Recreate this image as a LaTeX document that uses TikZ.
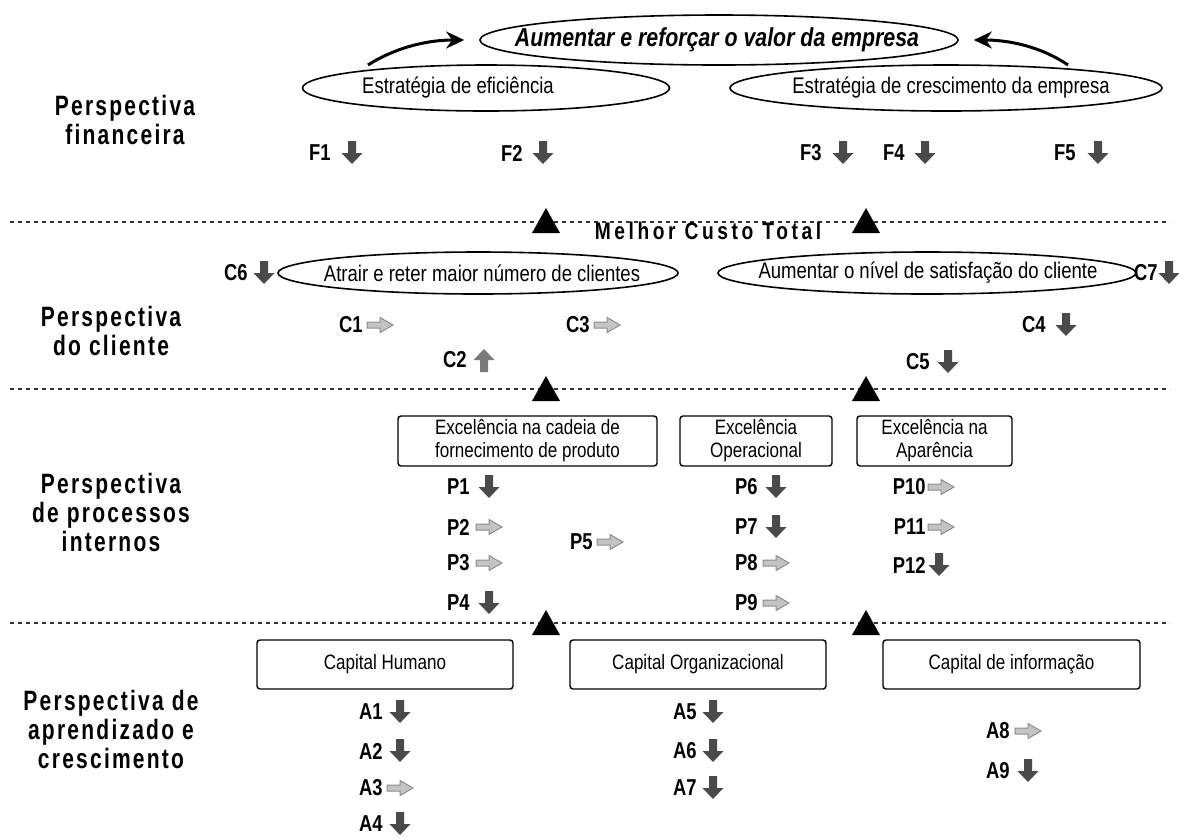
\documentclass[tikz,border=0pt]{standalone}
\usepackage{fontspec}
\setmainfont[FakeStretch=0.82]{Liberation Sans}
\newfontfamily\kpifont[FakeStretch=0.8]{Liberation Sans}
\newfontfamily\perspfont[FakeStretch=0.75,LetterSpace=8]{Liberation Sans}
\newfontfamily\costfont[FakeStretch=0.8,LetterSpace=15]{Liberation Sans}
\usetikzlibrary{shapes.geometric,arrows.meta}

\definecolor{darkmark}{HTML}{4A4A4A}
\definecolor{upmark}{HTML}{7A7A7A}
\definecolor{lightmark}{HTML}{C4C4C4}
\definecolor{lightedge}{HTML}{8C8C8C}

% one indicator: label (right-aligned at x-end), marker pic at x-marker, shared y
\newcommand{\kpimark}[5]{%
  \node[kpi] (#1) at (#2,#4) {#1};
  \pic at (#3,#4) {#5};}

\begin{document}
\begin{tikzpicture}[x=0.5pt,y=-0.5pt,
  kpi/.style={font=\kpifont\fontsize{11.5}{13}\selectfont\bfseries, anchor=east, inner sep=0pt},
  persp/.style={font=\perspfont\fontsize{14}{14.5}\selectfont\bfseries, align=center, inner sep=0pt},
  ell/.style={draw, ellipse, line width=0.8pt, inner sep=0pt},
  ebox/.style={draw, rounded corners=1.5pt, line width=0.7pt, inner sep=0pt, align=center,
    font=\fontsize{10.4}{11.5}\selectfont},
  etext/.style={font=\fontsize{11.3}{13}\selectfont, inner sep=0pt},
  sepline/.style={dash pattern=on 2pt off 2pt, line width=0.65pt, black!80},
  curvearrow/.style={line width=1.5pt, -{Stealth[length=9pt,width=8.5pt]}},
  dn/.pic={\fill[darkmark] (-4,-12) -- (4,-12) -- (4,0) -- (10.5,0) -- (0,11) -- (-10.5,0) -- (-4,0) -- cycle;},
  up/.pic={\fill[upmark] (-4,12) -- (4,12) -- (4,0) -- (10.5,0) -- (0,-11) -- (-10.5,0) -- (-4,0) -- cycle;},
  rt/.pic={\filldraw[fill=lightmark, draw=lightedge, line width=0.5pt]
    (-13,-3) -- (0,-3) -- (0,-7.5) -- (13,0) -- (0,7.5) -- (0,3) -- (-13,3) -- cycle;},
  tri/.pic={\fill[black] (0,-13) -- (14,12) -- (-14,12) -- cycle;}
]
\useasboundingbox (0,0) rectangle (1179,837);
\fill[white] (0,0) rectangle (1179,837);

% ---------- perspective titles ----------
\node[persp] (pf) at (125,120) {Perspectiva\\financeira};
\node[persp] (pc) at (111,331) {Perspectiva\\do cliente};
\node[persp] (pp) at (111,512) {Perspectiva\\de processos\\internos};
\node[persp] (pa) at (111,729) {Perspectiva de\\aprendizado e\\crescimento};

% ---------- separators ----------
\draw[sepline] (10,222) -- (1170,222);
\draw[sepline] (10,389) -- (1170,389);
\draw[sepline] (10,623) -- (1170,623);

% ---------- financial perspective ----------
\node[ell, minimum width=239pt, minimum height=25pt] (top) at (719,40) {};
\node[inner sep=0pt, font=\fontsize{13}{15}\selectfont\bfseries\itshape] (topt) at (717,40)
  {Aumentar e reforçar o valor da empresa};
\node[ell, minimum width=183.5pt, minimum height=23pt] (ef) at (486,88) {};
\node[etext] (eft) at (458,88) {Estratégia de eficiência};
\node[ell, minimum width=216pt, minimum height=23pt] (cr) at (946,88) {};
\node[etext] (crt) at (951,88) {Estratégia de crescimento da empresa};

\coordinate (efTop) at (368,65);
\coordinate (crTop) at (1068,65);
\draw[curvearrow, shorten >=7.5pt] (efTop) .. controls (398,46) and (430,40) .. (top.west);
\draw[curvearrow, shorten >=7.5pt] (crTop) .. controls (1040,46) and (1008,40) .. (top.east);

\kpimark{F1}{331}{352}{153}{dn}
\kpimark{F2}{523}{543}{153}{dn}
\kpimark{F3}{822}{843}{153}{dn}
\kpimark{F4}{905}{925}{153}{dn}
\kpimark{F5}{1076}{1098}{153}{dn}

\pic at (546,221) {tri};
\pic at (866,221) {tri};
\node[font=\costfont\fontsize{12}{14}\selectfont\bfseries, inner sep=0pt] (mct) at (708,231)
  {Melhor Custo Total};

% ---------- customer perspective ----------
\node[ell, minimum width=200pt, minimum height=21pt] (at) at (478,273) {};
\node[etext] (att) at (482,273) {Atrair e reter maior número de clientes};
\node[ell, minimum width=209pt, minimum height=21pt] (sat) at (927,273) {};
\node[etext] (satt) at (928,273) {Aumentar o nível de satisfação do cliente};

\kpimark{C6}{248}{264}{273}{dn}
\kpimark{C7}{1158}{1169}{273}{dn}
\kpimark{C1}{363}{380}{325}{rt}
\kpimark{C3}{590}{607}{325}{rt}
\kpimark{C4}{1046}{1066}{325}{dn}
\kpimark{C2}{467}{484}{360}{up}
\kpimark{C5}{930}{948}{362}{dn}

\pic at (546,389) {tri};
\pic at (866,389) {tri};

% ---------- internal processes ----------
\node[ebox, minimum width=129.5pt, minimum height=25pt] (b1) at (527.5,441)
  {Excelência na cadeia de\\fornecimento de produto};
\node[ebox, minimum width=76pt, minimum height=25pt] (b2) at (756,441)
  {Excelência\\Operacional};
\node[ebox, minimum width=77.5pt, minimum height=25pt] (b3) at (934.5,441)
  {Excelência na\\Aparência};

\kpimark{P1}{470}{489}{487}{dn}
\kpimark{P2}{470}{489}{527}{rt}
\kpimark{P3}{470}{489}{563}{rt}
\kpimark{P4}{470}{489}{603}{dn}
\kpimark{P5}{593}{610}{542}{rt}
\kpimark{P6}{758}{776}{487}{dn}
\kpimark{P7}{758}{776}{527}{dn}
\kpimark{P8}{758}{776}{563}{rt}
\kpimark{P9}{758}{776}{603}{rt}
\kpimark{P10}{926}{941}{487}{rt}
\kpimark{P11}{926}{941}{527}{rt}
\kpimark{P12}{926}{939}{565}{dn}

\pic at (546,623) {tri};
\pic at (866,623) {tri};

% ---------- learning and growth ----------
\node[ebox, minimum width=128pt, minimum height=24.5pt] (ch) at (385,664.5) {Capital Humano};
\node[ebox, minimum width=128pt, minimum height=24.5pt] (co) at (698,664.5) {Capital Organizacional};
\node[ebox, minimum width=128.5pt, minimum height=24.5pt] (ci) at (1011.5,664.5) {Capital de informação};

\kpimark{A1}{383}{400}{712}{dn}
\kpimark{A2}{383}{400}{751}{dn}
\kpimark{A3}{383}{400}{788}{rt}
\kpimark{A4}{383}{400}{824}{dn}
\kpimark{A5}{697}{713}{712}{dn}
\kpimark{A6}{697}{713}{751}{dn}
\kpimark{A7}{697}{713}{788}{dn}
\kpimark{A8}{1010}{1028}{731}{rt}
\kpimark{A9}{1010}{1028}{771}{dn}
\end{tikzpicture}
\end{document}
